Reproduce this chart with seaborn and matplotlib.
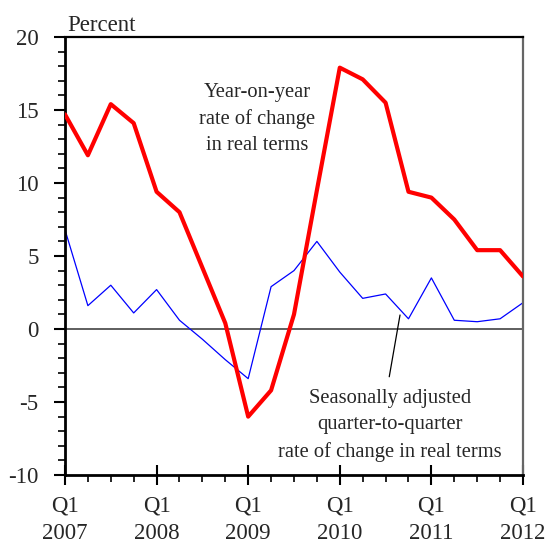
import seaborn as sns
import matplotlib
matplotlib.use("Agg")
import matplotlib.pyplot as plt
import pandas as pd
import numpy as np
from matplotlib.ticker import MultipleLocator

sns.set_theme(style="ticks")
plt.rcParams['font.family'] = ['Liberation Serif', 'DejaVu Serif']

# quarters Q1 2007 .. Q1 2012
quarters = ["2007Q1", "2007Q2", "2007Q3", "2007Q4",
            "2008Q1", "2008Q2", "2008Q3", "2008Q4",
            "2009Q1", "2009Q2", "2009Q3", "2009Q4",
            "2010Q1", "2010Q2", "2010Q3", "2010Q4",
            "2011Q1", "2011Q2", "2011Q3", "2011Q4",
            "2012Q1"]
yoy = [14.7, 11.9, 15.4, 14.1, 9.4, 8.0, 4.2, 0.4, -6.0, -4.2, 1.0, 9.5,
       17.9, 17.1, 15.5, 9.4, 9.0, 7.5, 5.4, 5.4, 3.6]
qoq = [6.8, 1.6, 3.0, 1.1, 2.7, 0.6, -0.7, -2.1, -3.4, 2.9, 4.0, 6.0,
       3.9, 2.1, 2.4, 0.7, 3.5, 0.6, 0.5, 0.7, 1.8]
year_labels = ["Q1\n2007", "Q1\n2008", "Q1\n2009", "Q1\n2010", "Q1\n2011", "Q1\n2012"]

df = pd.DataFrame({"q": np.arange(len(quarters)), "yoy": yoy, "qoq": qoq})

fig = plt.figure(figsize=(5.47, 5.44), dpi=100)
ax = fig.add_axes([0.1188, 0.1268, 0.9561 - 0.1188, 0.932 - 0.1268])

ax.axhline(0, color="#333333", lw=1.1, zorder=1)
sns.lineplot(data=df, x="q", y="qoq", color="#0000ff", lw=0.9, ax=ax, zorder=2)
sns.lineplot(data=df, x="q", y="yoy", color="#ff0000", lw=3.0, ax=ax, zorder=3)

ax.set_xlim(0, 20)
ax.set_ylim(-10, 20)
ax.set_xlabel("")
ax.set_ylabel("")

ax.set_xticks(np.arange(0, 21, 4))
ax.set_xticklabels(year_labels, fontsize=16.5, linespacing=1.36)
ax.xaxis.set_minor_locator(MultipleLocator(1))
ax.tick_params(axis="x", which="major", direction="inout", length=14, width=1.5,
               pad=8, color="black")
ax.tick_params(axis="x", which="minor", direction="out", length=5, width=1.2,
               color="black")

ax.set_yticks(np.arange(-10, 21, 5))
ax.set_yticklabels([str(v) for v in range(-10, 21, 5)], fontsize=16.5)
ax.yaxis.set_minor_locator(MultipleLocator(1))
ax.tick_params(axis="y", which="major", direction="out", length=8, width=1.5,
               pad=11, color="black")
ax.tick_params(axis="y", which="minor", direction="out", length=5, width=1.2,
               color="black")

for side in ["left", "bottom"]:
    ax.spines[side].set_linewidth(2)
    ax.spines[side].set_color("black")
ax.spines["top"].set_linewidth(1.6)
ax.spines["top"].set_color("black")
ax.spines["right"].set_linewidth(1.6)
ax.spines["right"].set_color("#666666")

ax.text(0.006, 1.003, "Percent", transform=ax.transAxes, fontsize=16.5,
        ha="left", va="bottom")

ax.text(8.4, 14.4, "Year-on-year\nrate of change\nin real terms",
        fontsize=14.8, ha="center", va="center", linespacing=1.5)

ax.text(14.2, -6.6, "Seasonally adjusted\nquarter-to-quarter\nrate of change in real terms",
        fontsize=14.8, ha="center", va="center", linespacing=1.5)
ax.annotate("", xy=(14.63, 0.96), xytext=(14.16, -3.27),
            arrowprops=dict(arrowstyle="-", color="black", lw=0.9,
                            shrinkA=0, shrinkB=0))

fig.savefig("out.png", dpi=100)
